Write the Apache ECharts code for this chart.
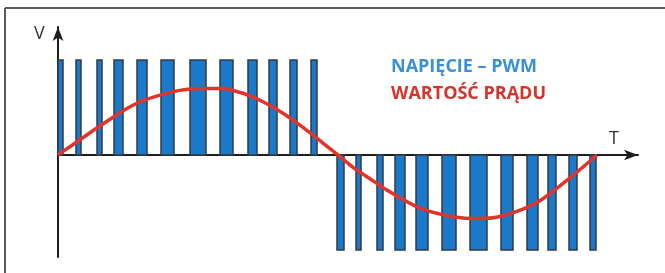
<!DOCTYPE html>
<html>
<head>
<meta charset="utf-8">
<script src="https://cdn.jsdelivr.net/npm/echarts@6/dist/echarts.min.js"></script>
<style>
  html, body { margin: 0; padding: 0; background: #fff; }
  #main { width: 665px; height: 273px; }
</style>
</head>
<body>
<div id="main"></div>
<script>
// PWM pulses: [start, end] in time units, positive half then negative half
var posPulses = [[0, 5], [18, 23], [39, 44], [56, 65], [79, 89], [103, 116],
                 [132, 148], [162, 175], [190, 199], [211, 219], [232, 239], [253, 259]];
var negPulses = [[279, 286], [298, 303], [319, 325], [337, 347], [358, 370], [384, 398],
                 [412, 429], [443, 455], [469, 480], [490, 498], [511, 519], [532, 538]];
var pulseLevel = 1;

// current (red curve)
var currentT = [0, 4, 22, 37, 57, 69, 82, 102, 122, 142, 162, 185, 205, 225, 245, 262,
                280, 295, 312, 329, 362, 395, 422, 445, 479, 512, 539];
var currentV = [0, 0.03, 0.16, 0.27, 0.41, 0.49, 0.56, 0.63, 0.68, 0.70, 0.70, 0.65, 0.56, 0.44, 0.29, 0.15,
                0, -0.13, -0.25, -0.37, -0.56, -0.65, -0.67, -0.64, -0.50, -0.24, 0];

var legendTexts = ['NAPIĘCIE – PWM', 'WARTOŚĆ PRĄDU'];

var pulseData = [];
posPulses.forEach(function (p) { pulseData.push([p[0], p[1], pulseLevel]); });
negPulses.forEach(function (p) { pulseData.push([p[0], p[1], -pulseLevel]); });

var curveData = currentT.map(function (t, i) { return [t, currentV[i]]; });

var chart = echarts.init(document.getElementById('main'));

chart.setOption({
  animation: false,
  backgroundColor: '#fff',
  grid: { left: 58, right: 27, top: 27, bottom: 16 },
  xAxis: {
    type: 'value',
    min: 0,
    max: 580,
    axisLine: {
      onZero: true,
      symbol: ['none', 'arrow'],
      symbolSize: [8, 14],
      lineStyle: { color: '#1e1e1e', width: 2 }
    },
    axisTick: { show: false },
    axisLabel: { show: false },
    splitLine: { show: false }
  },
  yAxis: {
    type: 'value',
    min: -1.074,
    max: 1.347,
    axisLine: {
      show: true,
      symbol: ['none', 'arrow'],
      symbolSize: [8, 14],
      lineStyle: { color: '#1e1e1e', width: 2 }
    },
    axisTick: { show: false },
    axisLabel: { show: false },
    splitLine: { show: false }
  },
  series: [
    {
      type: 'custom',
      name: 'PWM',
      data: pulseData,
      renderItem: function (params, api) {
        var a = api.coord([api.value(0), 0]);
        var b = api.coord([api.value(1), api.value(2)]);
        return {
          type: 'rect',
          shape: {
            x: Math.min(a[0], b[0]),
            y: Math.min(a[1], b[1]),
            width: Math.abs(b[0] - a[0]),
            height: Math.abs(b[1] - a[1])
          },
          style: { fill: '#1a79c8', stroke: '#333a44', lineWidth: 1.5 }
        };
      },
      z: 2
    },
    {
      type: 'line',
      name: 'prąd',
      data: curveData,
      smooth: 0.3,
      symbol: 'none',
      lineStyle: { color: '#e2332c', width: 3.5 },
      z: 3
    }
  ],
  graphic: [
    { type: 'line', shape: { x1: 5, y1: 8, x2: 665, y2: 8 }, style: { stroke: '#5a5a5a', lineWidth: 2 } },
    { type: 'line', shape: { x1: 5, y1: 8, x2: 5, y2: 273 }, style: { stroke: '#5a5a5a', lineWidth: 2 } },
    { type: 'text', left: 34, top: 25, style: { text: 'V', font: '18px "Open Sans", sans-serif', fill: '#333' } },
    { type: 'text', left: 609, top: 130, style: { text: 'T', font: '18px "Open Sans", sans-serif', fill: '#333' } },
    { type: 'text', left: 391, top: 58, style: { text: legendTexts[0], font: 'bold 18px "Open Sans", sans-serif', fill: '#3b8fd5' } },
    { type: 'text', left: 391, top: 85, style: { text: legendTexts[1], font: 'bold 18px "Open Sans", sans-serif', fill: '#d9322b' } }
  ]
});
</script>
</body>
</html>
